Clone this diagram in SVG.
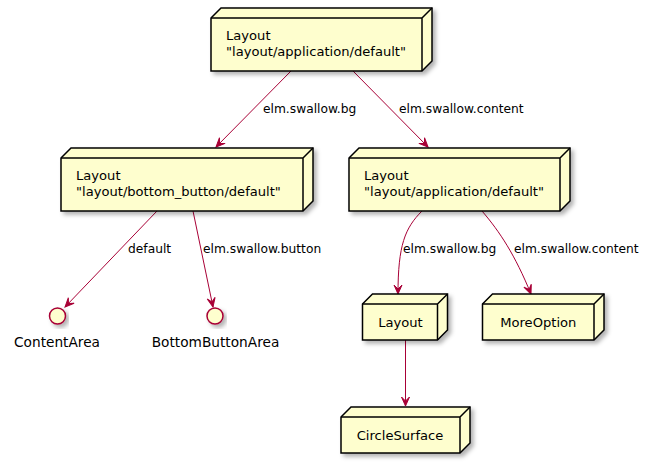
<svg xmlns="http://www.w3.org/2000/svg" width="652" height="464" viewBox="0 0 652 464">
<style>
.node path{fill:#FEFECE;stroke:#000;stroke-width:1.5}
.node .ln{fill:none}
.txt{font-family:"DejaVu Sans",sans-serif;font-size:13.1px;fill:#000}
.itxt{font-family:"DejaVu Sans",sans-serif;font-size:13.7px;fill:#000}
.lbl{font-family:"DejaVu Sans",sans-serif;font-size:12.25px;fill:#000}
.edge{fill:none;stroke:#A80036;stroke-width:1}
.iface circle{fill:#FEFECE;stroke:#A80036;stroke-width:1.5}
</style>
<defs>
<filter id="sh" x="-10%" y="-10%" width="130%" height="140%">
<feDropShadow dx="3" dy="3" stdDeviation="2" flood-color="#000" flood-opacity="0.3"/>
</filter>
<marker id="arr" viewBox="-10 -5 11 10" refX="0" refY="0" markerWidth="11" markerHeight="10" markerUnits="userSpaceOnUse" orient="auto">
<path d="M0,0 L-9,-4 L-5,0 L-9,4 Z" fill="#A80036" stroke="#A80036" stroke-width="1"/>
</marker>
</defs>
<rect width="652" height="464" fill="#fff"/>

<g id="connectors">
<path class="edge" d="M291,71 L216,147" marker-end="url(#arr)"/>
<path class="edge" d="M353,71 L428,147" marker-end="url(#arr)"/>
<path class="edge" d="M157,211 L65,307" marker-end="url(#arr)"/>
<path class="edge" d="M193,211 L213,307" marker-end="url(#arr)"/>
<path class="edge" d="M422,211 C405,228 398,245 398,294" marker-end="url(#arr)"/>
<path class="edge" d="M482,211 C500,232 515,255 531,294" marker-end="url(#arr)"/>
<path class="edge" d="M405.5,340 L405.5,406" marker-end="url(#arr)"/>
<text class="lbl" x="263" y="113">elm.swallow.bg</text>
<text class="lbl" x="399" y="113">elm.swallow.content</text>
<text class="lbl" x="128" y="253">default</text>
<text class="lbl" x="203" y="253">elm.swallow.button</text>
<text class="lbl" x="403" y="253">elm.swallow.bg</text>
<text class="lbl" x="514" y="253">elm.swallow.content</text>
</g>

<g id="layout-top" class="node">
<path filter="url(#sh)" d="M211,18 L221,8 L432,8 L432,61 L422,71 L211,71 Z"/>
<path class="ln" d="M211,18 L422,18 L422,71 M422,18 L432,8"/>
<text class="txt" x="226" y="40">Layout</text>
<text class="txt" x="226" y="56">"layout/application/default"</text>
</g>

<g id="layout-bottom-button" class="node">
<path filter="url(#sh)" d="M61,158 L71,148 L313,148 L313,201 L303,211 L61,211 Z"/>
<path class="ln" d="M61,158 L303,158 L303,211 M303,158 L313,148"/>
<text class="txt" x="76" y="180">Layout</text>
<text class="txt" x="76" y="196">"layout/bottom_button/default"</text>
</g>

<g id="layout-app" class="node">
<path filter="url(#sh)" d="M349,158 L359,148 L570,148 L570,201 L560,211 L349,211 Z"/>
<path class="ln" d="M349,158 L560,158 L560,211 M560,158 L570,148"/>
<text class="txt" x="364" y="180">Layout</text>
<text class="txt" x="364" y="196">"layout/application/default"</text>
</g>

<g id="content-area" class="iface">
<circle cx="57.5" cy="316" r="8" filter="url(#sh)"/>
<text class="itxt" x="57" y="347" text-anchor="middle">ContentArea</text>
</g>

<g id="bottom-button-area" class="iface">
<circle cx="215" cy="316" r="8" filter="url(#sh)"/>
<text class="itxt" x="215.5" y="347" text-anchor="middle">BottomButtonArea</text>
</g>

<g id="layout" class="node">
<path filter="url(#sh)" d="M362.5,304 L372.5,294 L447.5,294 L447.5,330 L437.5,340 L362.5,340 Z"/>
<path class="ln" d="M362.5,304 L437.5,304 L437.5,340 M437.5,304 L447.5,294"/>
<text class="txt" x="400.5" y="327" text-anchor="middle">Layout</text>
</g>

<g id="more-option" class="node">
<path filter="url(#sh)" d="M482.5,304 L492.5,294 L604,294 L604,330 L594,340 L482.5,340 Z"/>
<path class="ln" d="M482.5,304 L594,304 L594,340 M594,304 L604,294"/>
<text class="txt" x="538.3" y="327" text-anchor="middle">MoreOption</text>
</g>

<g id="circle-surface" class="node">
<path filter="url(#sh)" d="M341,417 L351,407 L470,407 L470,443 L460,453 L341,453 Z"/>
<path class="ln" d="M341,417 L460,417 L460,453 M460,417 L470,407"/>
<text class="txt" x="400" y="440" text-anchor="middle">CircleSurface</text>
</g>
</svg>
